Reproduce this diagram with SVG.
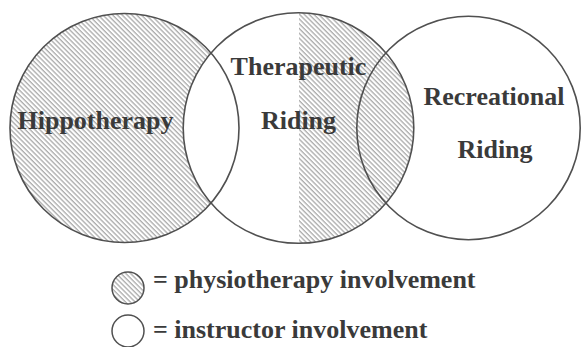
<svg xmlns="http://www.w3.org/2000/svg" width="583" height="347" viewBox="0 0 583 347">
  <style>
    .lbl { font-family: "Liberation Serif", "Times New Roman", serif; font-weight: bold; font-size: 26px; fill: #3a3a3a; }
    .ring { fill: none; stroke: #505050; stroke-width: 1.6; }
  </style>
  <defs>
    <pattern id="hatch" width="3.4" height="10" patternUnits="userSpaceOnUse" patternTransform="rotate(-45)">
      <line x1="1" y1="0" x2="1" y2="10" stroke="#9a9a9a" stroke-width="1.1"/>
    </pattern>
    <clipPath id="rightHalf">
      <rect x="299" y="0" width="284" height="347"/>
    </clipPath>
  </defs>
  <rect width="583" height="347" fill="#ffffff"/>

  <!-- shading -->
  <g id="shading">
    <circle cx="124.5" cy="128" r="114.5" fill="url(#hatch)"/>
    <circle cx="298.5" cy="128" r="115.3" fill="#ffffff"/>
    <circle cx="298.5" cy="128" r="115.3" fill="url(#hatch)" clip-path="url(#rightHalf)"/>
  </g>

  <g id="hippotherapy">
    <circle class="ring" cx="124.5" cy="128" r="114.5"/>
    <text class="lbl" x="95.5" y="129" text-anchor="middle">Hippotherapy</text>
  </g>
  <g id="therapeutic-riding">
    <circle class="ring" cx="298.5" cy="128" r="115.3"/>
    <text class="lbl" x="298.5" y="75" text-anchor="middle">Therapeutic</text>
    <text class="lbl" x="298.5" y="129" text-anchor="middle">Riding</text>
  </g>
  <g id="recreational-riding">
    <circle class="ring" cx="468.5" cy="128" r="111.7"/>
    <text class="lbl" x="494" y="105" text-anchor="middle">Recreational</text>
    <text class="lbl" x="495" y="158" text-anchor="middle">Riding</text>
  </g>

  <g id="legend-physio">
    <circle cx="128" cy="288" r="16" fill="url(#hatch)" stroke="#505050" stroke-width="1.5"/>
    <text class="lbl" x="153" y="288">= physiotherapy involvement</text>
  </g>
  <g id="legend-instructor">
    <circle cx="128" cy="331" r="16" fill="none" stroke="#505050" stroke-width="1.5"/>
    <text class="lbl" x="153" y="338">= instructor involvement</text>
  </g>
  <g id="connectors"></g>
</svg>
